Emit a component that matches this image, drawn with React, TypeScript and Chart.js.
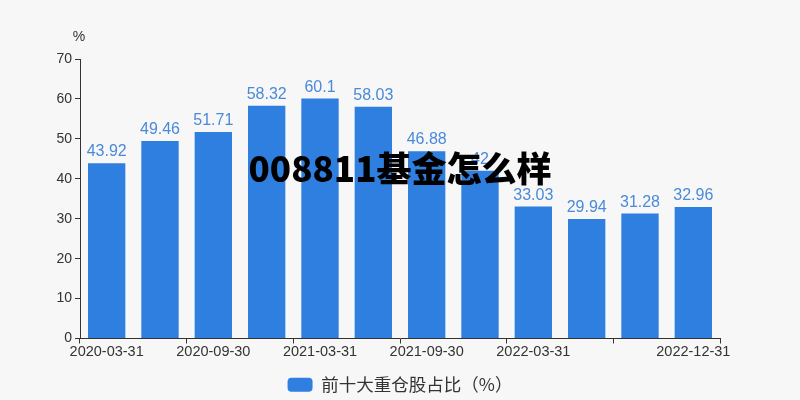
import React, { useEffect, useRef } from 'react';
import { Chart, registerables } from 'chart.js';

Chart.register(...registerables);

const categories = [
  '2020-03-31', '2020-06-30', '2020-09-30', '2020-12-31',
  '2021-03-31', '2021-06-30', '2021-09-30', '2021-12-31',
  '2022-03-31', '2022-06-30', '2022-09-30', '2022-12-31',
];
const values = [43.92, 49.46, 51.71, 58.32, 60.1, 58.03, 46.88, 42, 33.03, 29.94, 31.28, 32.96];
const shownTickLabels = ['2020-03-31', '2020-09-30', '2021-03-31', '2021-09-30', '2022-03-31', '2022-12-31'];
const seriesName = '前十大重仓股占比（%）';
const overlayTitle = '008811基金怎么样';
const yUnit = '%';
const yMin = 0;
const yMax = 70;
const yStep = 10;

const FONT = '"Liberation Sans", Arial, "Noto Sans CJK SC", sans-serif';
const CJK_FONT = '"Noto Sans CJK SC", "Liberation Sans", sans-serif';
const BAR_COLOR = '#2e7fe0';
const LABEL_COLOR = '#4a8ad8';
const TEXT_COLOR = '#333333';
const BG = '#f7f7f7';

const bgPlugin = {
  id: 'bg',
  beforeDraw(chart: any) {
    const { ctx, width, height } = chart;
    ctx.save();
    ctx.fillStyle = BG;
    ctx.fillRect(0, 0, width, height);
    ctx.restore();
  },
};

const valueLabelPlugin = {
  id: 'valueLabels',
  afterDatasetsDraw(chart: any) {
    const { ctx } = chart;
    const meta = chart.getDatasetMeta(0);
    ctx.save();
    ctx.font = `16px ${FONT}`;
    ctx.fillStyle = LABEL_COLOR;
    ctx.textAlign = 'center';
    ctx.textBaseline = 'alphabetic';
    meta.data.forEach((el: any, i: number) => {
      ctx.fillText(String(values[i]), el.x, el.y - 7);
    });
    ctx.restore();
  },
};

const overlayPlugin = {
  id: 'overlay',
  afterDraw(chart: any) {
    const { ctx, chartArea } = chart;
    ctx.save();
    ctx.font = `14px ${FONT}`;
    ctx.fillStyle = TEXT_COLOR;
    ctx.textAlign = 'center';
    ctx.textBaseline = 'middle';
    ctx.fillText(yUnit, chartArea.left - 1, chartArea.top - 22);
    ctx.font = `900 35px "Noto Sans CJK SC", sans-serif`;
    ctx.fillStyle = '#000000';
    ctx.textAlign = 'center';
    ctx.textBaseline = 'middle';
    ctx.fillText(overlayTitle, 400, 169);
    ctx.restore();
  },
};

export default function App() {
  const ref = useRef<HTMLCanvasElement>(null);
  useEffect(() => {
    document.body.style.margin = '0';
    const canvas = ref.current;
    if (!canvas) return;
    const chart = new Chart(canvas, {
      type: 'bar',
      data: {
        labels: categories,
        datasets: [
          {
            label: seriesName,
            data: values,
            backgroundColor: BAR_COLOR,
            borderWidth: 0,
            barPercentage: 0.7,
            categoryPercentage: 1,
          },
        ],
      },
      options: {
        responsive: false,
        animation: false,
        devicePixelRatio: 1,
        layout: { padding: { left: 0, right: 80, top: 59, bottom: -3.5 } },
        plugins: {
          legend: {
            display: true,
            position: 'bottom',
            fullSize: false,
            labels: {
              boxWidth: 25,
              boxHeight: 14,
              useBorderRadius: true,
              borderRadius: 4,
              padding: 2.5,
              color: TEXT_COLOR,
              font: { size: 17.5, family: CJK_FONT },
            },
          },
          tooltip: { enabled: false },
          title: { display: false },
        },
        scales: {
          x: {
            type: 'category',
            offset: true,
            afterFit(scale: any) {
              scale.height = 35;
            },
            grid: {
              display: true,
              drawOnChartArea: false,
              offset: true,
              tickLength: 5,
              tickColor: (ctx: any) =>
                ctx.index !== undefined && ctx.index % 2 === 1 ? 'rgba(0,0,0,0)' : TEXT_COLOR,
            },
            border: { display: true, color: TEXT_COLOR, width: 1 },
            ticks: {
              autoSkip: false,
              maxRotation: 0,
              minRotation: 0,
              padding: 0,
              color: TEXT_COLOR,
              font: { size: 14.5, family: FONT },
              callback: (_v: any, i: number) =>
                shownTickLabels.includes(categories[i]) ? categories[i] : '',
            },
          },
          y: {
            min: yMin,
            max: yMax,
            afterFit(scale: any) {
              scale.width = 80;
            },
            grid: {
              display: true,
              drawOnChartArea: false,
              tickLength: 5,
              tickColor: TEXT_COLOR,
            },
            border: { display: true, color: TEXT_COLOR, width: 1 },
            ticks: {
              stepSize: yStep,
              padding: 3,
              color: TEXT_COLOR,
              font: { size: 14, family: FONT },
            },
          },
        },
      },
      plugins: [bgPlugin, valueLabelPlugin, overlayPlugin],
    });
    return () => chart.destroy();
  }, []);
  return (
    <div style={{ width: 800, height: 400 }}>
      <canvas ref={ref} width={800} height={400} />
    </div>
  );
}
